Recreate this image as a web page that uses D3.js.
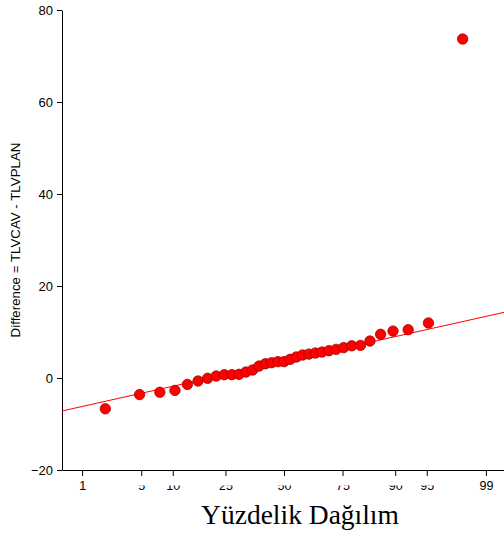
<!DOCTYPE html>
<html>
<head>
<meta charset="utf-8">
<script src="https://cdn.jsdelivr.net/npm/d3@7"></script>
<style>
  html, body { margin: 0; padding: 0; background: #fff; }
  svg { display: block; }
</style>
</head>
<body>
<svg id="chart" width="504" height="538"></svg>
<script>
// ---- data ----
const differences = [
  -6.7, -3.6, -3.1, -2.7, -1.4, -0.65, -0.07, 0.43, 0.72, 0.72,
  0.8, 1.3, 1.74, 2.6, 3.1, 3.33, 3.55, 3.55, 4.06, 4.57,
  5.0, 5.2, 5.43, 5.65, 5.94, 6.23, 6.6, 7.0, 7.1, 8.04,
  9.5, 10.2, 10.5, 11.96, 73.7
];
const percentTicks = [1, 5, 10, 25, 50, 75, 90, 95, 99];
const fullLabelTicks = [1, 99];
const yTicks = [-20, 0, 20, 40, 60, 80];
const fitIntercept = 3.6;
const fitSlope = 4.21;
const yTitle = "Difference = TLVCAV - TLVPLAN";
const xTitle = "Yüzdelik Dağılım";

(function () {
// inverse standard normal CDF (Acklam)
function probit(p) {
  const a = [-3.969683028665376e+01, 2.209460984245205e+02, -2.759285104469687e+02, 1.383577518672690e+02, -3.066479806614716e+01, 2.506628277459239e+00];
  const b = [-5.447609879822406e+01, 1.615858368580409e+02, -1.556989798598866e+02, 6.680131188771670e+01, -1.328068155288572e+01];
  const c = [-7.784894002430293e-03, -3.223964580411365e-01, -2.400758277161838e+00, -2.549732539343734e+00, 4.374664141464968e+00, 2.938163982698783e+00];
  const d = [7.784695709041462e-03, 3.224671290700398e-01, 2.445134137142996e+00, 3.754408661907416e+00];
  const pl = 0.02425, ph = 1 - pl;
  let q, r;
  if (p < pl) {
    q = Math.sqrt(-2 * Math.log(p));
    return (((((c[0]*q+c[1])*q+c[2])*q+c[3])*q+c[4])*q+c[5]) / ((((d[0]*q+d[1])*q+d[2])*q+d[3])*q+1);
  } else if (p <= ph) {
    q = p - 0.5; r = q * q;
    return (((((a[0]*r+a[1])*r+a[2])*r+a[3])*r+a[4])*r+a[5])*q / (((((b[0]*r+b[1])*r+b[2])*r+b[3])*r+b[4])*r+1);
  } else {
    q = Math.sqrt(-2 * Math.log(1 - p));
    return -(((((c[0]*q+c[1])*q+c[2])*q+c[3])*q+c[4])*q+c[5]) / ((((d[0]*q+d[1])*q+d[2])*q+d[3])*q+1);
  }
}

const n = differences.length;
const sorted = differences.slice().sort((a, b) => a - b);
const points = sorted.map((v, i) => ({ z: probit((i + 1 - 0.3) / (n + 0.4)), v }));

const svg = d3.select("#chart");
const mLeft = 62, mRight = 504, mTop = 10, mBottom = 470;
const sans = "Liberation Sans, Arial, sans-serif";

const x = d3.scaleLinear().domain([-2.558, 2.535]).range([mLeft, mRight]);
const y = d3.scaleLinear().domain([-20, 80]).range([mBottom, mTop]);

// y axis
const yAxis = svg.append("g")
  .attr("transform", `translate(${mLeft},0)`)
  .call(d3.axisLeft(y).tickValues(yTicks).tickSize(5).tickPadding(4).tickSizeOuter(0));
yAxis.select(".domain").attr("stroke", "#000");
yAxis.selectAll(".tick line").attr("stroke", "#000");
yAxis.selectAll("text").attr("font-family", sans).attr("font-size", 13).attr("fill", "#000");

// x axis
const xAxis = svg.append("g")
  .attr("transform", `translate(0,${mBottom})`)
  .call(d3.axisBottom(x).tickValues(percentTicks.map(p => probit(p / 100)))
    .tickFormat((d, i) => String(percentTicks[i])).tickSize(6).tickPadding(5).tickSizeOuter(0));
xAxis.select(".domain").attr("stroke", "#000");
xAxis.selectAll(".tick line").attr("stroke", "#000");
xAxis.selectAll("text").attr("font-family", sans).attr("font-size", 12.5).attr("fill", "#000");

// partially hidden middle labels (as in the reference)
svg.append("clipPath").attr("id", "labclip")
  .append("rect").attr("x", -300).attr("y", 15.5).attr("width", 800).attr("height", 40);
xAxis.selectAll(".tick").filter((d, i) => !fullLabelTicks.includes(percentTicks[i]))
  .select("text").attr("clip-path", "url(#labclip)");

// fit line
const [z0, z1] = x.domain();
svg.append("line")
  .attr("x1", x(z0)).attr("y1", y(fitIntercept + fitSlope * z0))
  .attr("x2", x(z1)).attr("y2", y(fitIntercept + fitSlope * z1))
  .attr("stroke", "#ff0000").attr("stroke-width", 1);

// points
svg.append("g").selectAll("circle").data(points).join("circle")
  .attr("cx", d => x(d.z)).attr("cy", d => y(d.v))
  .attr("r", 5.2)
  .attr("fill", "#ff0000").attr("stroke", "#a00000").attr("stroke-width", 0.8);

// titles
svg.append("text")
  .attr("transform", `translate(20,${(mTop + mBottom) / 2}) rotate(-90)`)
  .attr("text-anchor", "middle")
  .attr("font-family", sans).attr("font-size", 13.3)
  .text(yTitle);

svg.append("text")
  .attr("x", 300).attr("y", 524)
  .attr("text-anchor", "middle")
  .attr("font-family", "Liberation Serif, Times New Roman, serif").attr("font-size", 27.5)
  .text(xTitle);
})();
</script>
</body>
</html>
